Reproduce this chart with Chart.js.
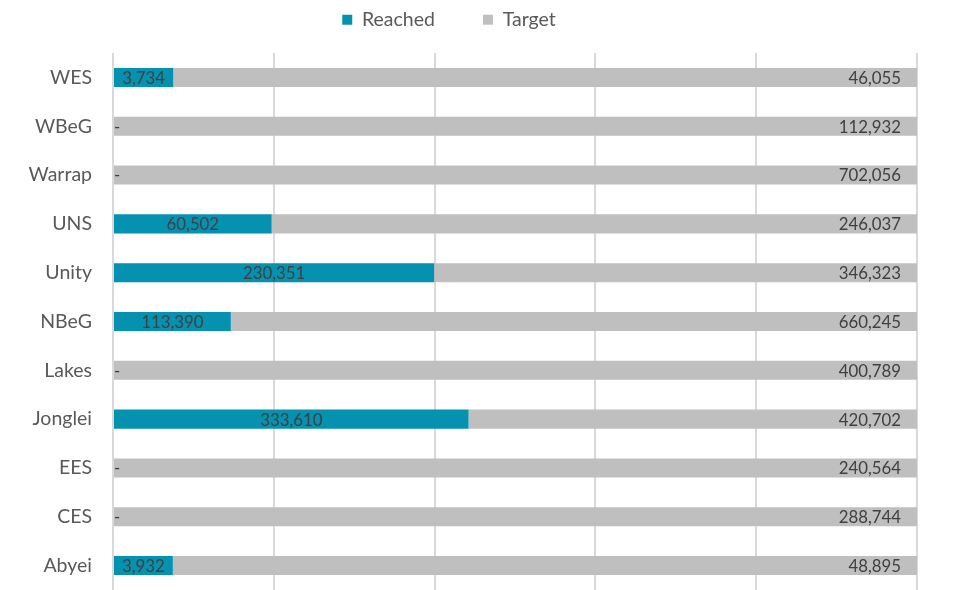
<!DOCTYPE html>
<html>
<head>
<meta charset="utf-8">
<script src="https://cdn.jsdelivr.net/npm/chart.js@4.4.1/dist/chart.umd.min.js"></script>
<style>
    html, body { margin: 0; padding: 0; background: #ffffff; overflow: hidden; }
    #diagram { display: block; }
</style>
</head>
<body>
<canvas id="diagram" width="957" height="590"></canvas>
<script>
    // states, top to bottom as in the picture
    var states = ['WES', 'WBeG', 'Warrap', 'UNS', 'Unity', 'NBeG', 'Lakes', 'Jonglei', 'EES', 'CES', 'Abyei'];
    var reached = [3734, 0, 0, 60502, 230351, 113390, 0, 333610, 0, 0, 3932];
    var target = [46055, 112932, 702056, 246037, 346323, 660245, 400789, 420702, 240564, 288744, 48895];
    var gridTicks = [0, 0.2, 0.4, 0.6, 0.8, 1];

    var fontName = 'Lato, "Open Sans", sans-serif';

    // 100% stacked: each segment as a share of reached + target
    function share(arr) {
        var out = [];
        for (var i = 0; i < arr.length; i++) {
            out.push(arr[i] / (reached[i] + target[i]));
        }
        return out;
    }

    function fmt(v) {
        return v.toLocaleString('en-US');
    }

    // legend keeps its wide item gap but a fixed height
    var legendHeight = {
        id: 'legendHeight',
        beforeInit: function(chart) {
            var fit = chart.legend.fit;
            chart.legend.fit = function() {
                fit.bind(chart.legend)();
                this.height = 91;
            };
        }
    };

    // draws the value labels on the segments
    var valueLabels = {
        id: 'valueLabels',
        afterDatasetsDraw: function(chart) {
            var ctx = chart.ctx;
            ctx.save();
            ctx.font = '16.8px ' + fontName;
            ctx.fillStyle = '#404040';
            ctx.textBaseline = 'middle';
            chart.data.datasets.forEach(function(ds, di) {
                var meta = chart.getDatasetMeta(di);
                meta.data.forEach(function(bar, i) {
                    var raw = ds.raw[i];
                    var left = Math.min(bar.x, bar.base);
                    var right = Math.max(bar.x, bar.base);
                    if (di == 0) {
                        if (raw == 0) {
                            ctx.textAlign = 'left';
                            ctx.fillText('-', left + 1, bar.y + 1);
                        } else {
                            ctx.textAlign = 'center';
                            ctx.fillText(fmt(raw), (left + right) / 2, bar.y + 1);
                        }
                    } else {
                        ctx.textAlign = 'right';
                        ctx.fillText(fmt(raw), right - 16, bar.y + 1);
                    }
                });
            });
            ctx.restore();
        }
    };

    var myChart = new Chart(document.getElementById('diagram'), {
        type: 'bar',
        data: {
            labels: states,
            datasets: [
                {
                    label: 'Reached',
                    data: share(reached),
                    raw: reached,
                    backgroundColor: '#0591B0',
                    barPercentage: 0.39,
                    categoryPercentage: 1
                },
                {
                    label: 'Target',
                    data: share(target),
                    raw: target,
                    backgroundColor: '#BFBFBF',
                    barPercentage: 0.39,
                    categoryPercentage: 1
                }
            ]
        },
        options: {
            indexAxis: 'y',
            responsive: false,
            animation: false,
            layout: {
                padding: { left: -19, right: 40, top: -38, bottom: 0 }
            },
            scales: {
                x: {
                    stacked: true,
                    min: 0,
                    max: 1,
                    afterBuildTicks: function(scale) {
                        scale.ticks = gridTicks.map(function(v) { return { value: v }; });
                    },
                    afterFit: function(scale) {
                        scale.height = 0;
                        scale.paddingLeft = scale.paddingRight = 0;
                    },
                    ticks: { display: false },
                    grid: { color: '#D9D9D9', lineWidth: 2, drawTicks: false },
                    border: { display: false }
                },
                y: {
                    stacked: true,
                    afterFit: function(scale) {
                        scale.width = 132;
                        scale.paddingTop = scale.paddingBottom = 0;
                    },
                    ticks: {
                        color: '#595959',
                        padding: 21,
                        font: { family: fontName, size: 19.5 }
                    },
                    grid: { display: false, drawTicks: false },
                    border: { display: false }
                }
            },
            plugins: {
                legend: {
                    position: 'top',
                    labels: {
                        color: '#595959',
                        boxWidth: 10,
                        boxHeight: 10,
                        padding: 48,
                        font: { family: fontName, size: 19.5 }
                    }
                },
                tooltip: { enabled: false }
            }
        },
        plugins: [legendHeight, valueLabels]
    });
</script>
</body>
</html>
